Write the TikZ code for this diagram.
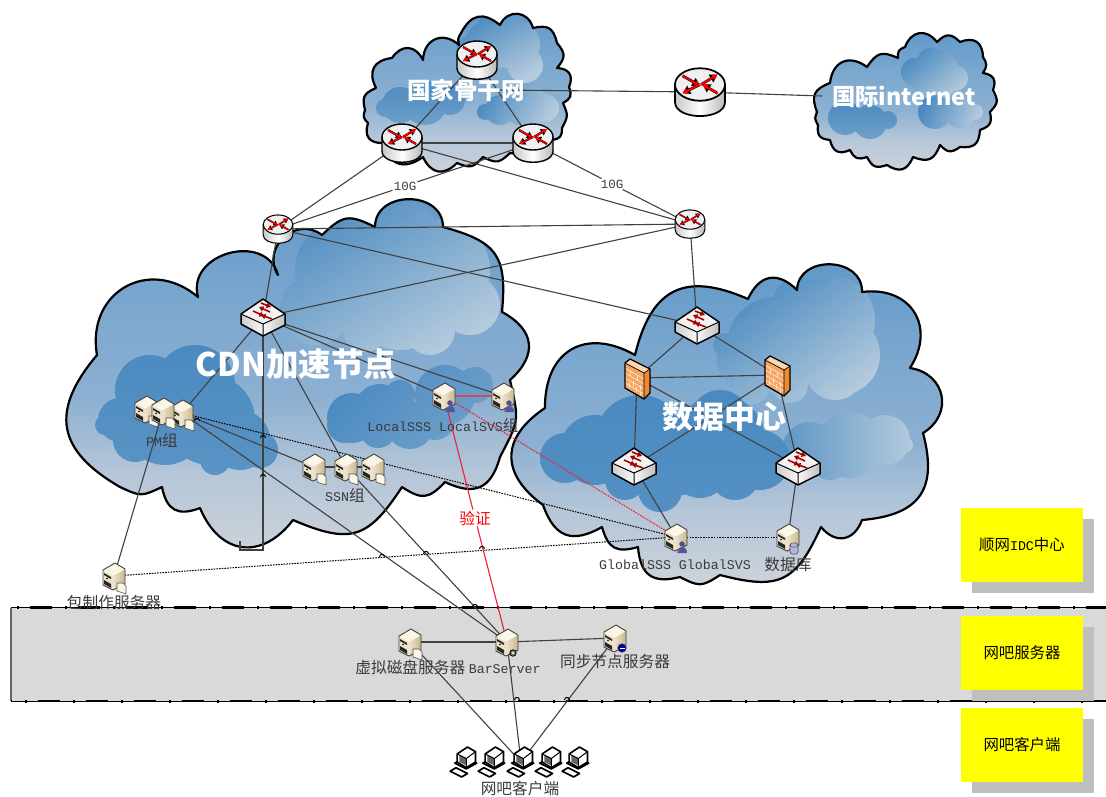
\documentclass[tikz,border=0pt]{standalone}
\usepackage{fontspec}
\setmainfont{Noto Sans CJK SC}
\setmonofont{Liberation Mono}
\usetikzlibrary{arrows.meta}
\definecolor{cTop}{HTML}{5F98C8}
\definecolor{cUp}{HTML}{7BA7CF}
\definecolor{cMid}{HTML}{8CB0D1}
\definecolor{cLow}{HTML}{B4C6D8}
\definecolor{cBot}{HTML}{CFD3DA}
\definecolor{bDark}{HTML}{4A8AC0}
\definecolor{bMid}{HTML}{6FA0CA}
\definecolor{bLight}{HTML}{B4CADD}
\definecolor{lab}{HTML}{3A3A3A}
\definecolor{lnk}{HTML}{404040}
\definecolor{bandc}{HTML}{D9D9D9}
\definecolor{redl}{HTML}{F02035}
\definecolor{redt}{HTML}{D24A62}
\definecolor{srvT}{HTML}{FBF6E6}
\definecolor{srvL}{HTML}{EDE3CA}
\definecolor{srvR}{HTML}{C9B78F}
\definecolor{pureyel}{HTML}{FFFF00}
\definecolor{fwF}{HTML}{F7A662}
\definecolor{fwS}{HTML}{EE8A34}
\definecolor{fwT}{HTML}{FBD6B0}
\definecolor{fwB}{HTML}{FDE3CC}
\pgfdeclareverticalshading{cloudsh}{100bp}{color(0bp)=(cBot); color(25bp)=(cBot); color(37bp)=(cLow); color(47bp)=(cMid); color(60bp)=(cUp); color(75bp)=(cTop); color(100bp)=(cTop)}
\tikzset{
  bump/.style={bend left=#1,looseness=1.4},
  link/.style={draw=lnk,line width=1.1pt},
  dotl/.style={draw=black,line width=1pt,dash pattern=on 1.6pt off 1.1pt},
  redline/.style={draw=redl,line width=1.1pt},
  reddot/.style={draw=redl,line width=1.1pt,dash pattern=on 1.6pt off 1.1pt},
  lbl/.style={text=lab,inner sep=0pt,font=\fontsize{15.7}{16}\selectfont},
  mono/.style={text=lab,inner sep=0pt,font=\fontsize{13.3}{15}\selectfont\ttfamily},
  ttl/.style={text=white,inner sep=0pt,font=\bfseries},
  yel/.style={fill=pureyel,draw=none,minimum width=122pt,minimum height=74pt,inner sep=0pt,text=black,font=\fontsize{15.4}{16}\selectfont},
  shd/.style={fill=black!25,draw=none,minimum width=122pt,minimum height=74pt,inner sep=0pt},
  rarr/.style={-{Triangle[length=0pt 2.8 0,width=0pt 3.2 0]},line cap=butt},
}
\newcommand\cloudpath[2]{(#1) foreach \x/\y/\b in {#2} { to[bump=\b] (\x,\y) } -- cycle}
\newcommand\blobs[4]{\shade[top color=#1,bottom color=#2,shading angle=#3] foreach \x/\y/\r in {#4} {(\x,\y) circle (\r)};}
\newcommand\cloudshape[3]{%
  \shade[shading=cloudsh] \cloudpath{#1}{#2};
  \begin{scope}\clip \cloudpath{#1}{#2}; #3 \end{scope}
  \draw[black,line width=2.2pt,line join=round] \cloudpath{#1}{#2};
}
\newcommand\redarrow[5]{%
  \draw[black,line width=#5*2.2pt,rarr] (#1,#2) -- (#3,#4);
  \draw[red,line width=#5*1.5pt,rarr] (#1,#2) -- (#3,#4);
}
\newcommand\routericon[3]{\begin{scope}[shift={(#1,#2)},scale=#3]
  \path[left color=black!22,right color=black!28,middle color=white]
    (-20,-6) -- (-20,8) .. controls (-20,23) and (20,23) .. (20,8) -- (20,-6) -- cycle;
  \draw[black,line width=#3*1.4pt] (-20,-6) -- (-20,8) .. controls (-20,23) and (20,23) .. (20,8) -- (20,-6);
  \draw[black,fill=black!6,line width=#3*1.4pt] (0,-6) ellipse (20 and 13);
  \redarrow{-14}{-13}{0}{-5}{#3}
  \redarrow{1}{-6}{14}{-14}{#3}
  \redarrow{0}{-6}{-14}{1}{#3}
  \redarrow{14}{1}{2}{-6}{#3}
\end{scope}}
\newcommand\darkarrow[4]{%
  \draw[red!65!black,line width=1.6pt,rarr] (#1,#2) -- (#3,#4);
}
\newcommand\switchicon[2]{\begin{scope}[shift={(#1,#2)}]
  \path[left color=black!20,right color=black!3] (-22,-3) -- (0,7) -- (0,19) -- (-22,7) -- cycle;
  \path[left color=black!3,right color=black!25] (0,7) -- (22,-3) -- (22,8) -- (0,19) -- cycle;
  \fill[black!5] (0,-18) -- (22,-3) -- (0,7) -- (-22,-3) -- cycle;
  \draw[black,line width=1.5pt,line join=round] (0,-18) -- (22,-3) -- (22,8) -- (0,19) -- (-22,7) -- (-22,-3) -- cycle;
  \draw[black,line width=1pt] (-22,-3) -- (0,7) -- (22,-3) (0,7) -- (0,19);
  \darkarrow{-2}{-14}{8}{-10}
  \darkarrow{7}{-5}{-4}{-10}
  \darkarrow{-10}{-6}{1}{-1}
  \darkarrow{9}{2}{-2}{-2}
\end{scope}}
\newcommand\firewallicon[2]{\begin{scope}[shift={(#1,#2)}]
  \fill[fwF] (-12,-15) -- (-7,-19) -- (13,-9) -- (13,15) -- (7,21) -- (-12,10) -- cycle;
  \fill[fwS] (7,-5) -- (13,-9) -- (13,15) -- (7,21) -- cycle;
  \fill[fwT] (-12,-15) -- (-7,-19) -- (13,-9) -- (7,-5) -- cycle;
  \foreach \t in {-9,-4,1,6,11} {\draw[fwB,line width=.7pt] (-12,\t-1) -- (7,\t+10);}
  \foreach \x/\t in {-7/-7,0/-3,-4/3,3/7,-8/5,-1/9,3/14}{\draw[fwB,line width=.7pt] (\x,\t) -- (\x,\t+5);}
  \draw[black,line width=1.3pt,line join=round] (-12,-15) -- (-7,-19) -- (13,-9) -- (13,15) -- (7,21) -- (-12,10) -- cycle;
  \draw[black,line width=.7pt] (-12,-15) -- (7,-5) -- (13,-9) (7,-5) -- (7,21);
\end{scope}}
\newcommand\srvbody{%
  \path[left color=srvL,right color=srvR] (-1,0) -- (11,-7) -- (11,8) -- (-1,14) -- cycle;
  \fill[srvL] (-11,-6) -- (-1,0) -- (-1,14) -- (-11,9) -- cycle;
  \fill[srvT] (-11,-6) -- (1,-13) -- (11,-7) -- (-1,0) -- cycle;
  \fill[black!85] (-10,-3) -- (-3,1) -- (-3,3) -- (-10,-1) -- cycle;
  \fill[black!85] (-10,4) -- (-3,8) -- (-3,12) -- (-10,8) -- cycle;
  \fill[black] (-7,2.5) circle (.9);
  \draw[black!75,line width=.9pt,line join=round] (-11,-6) -- (1,-13) -- (11,-7) -- (11,8) -- (-1,14) -- (-11,9) -- cycle;
}
\newcommand\srvdoc{\draw[black!70,fill=srvT,line width=.6pt] (3,7) -- (3,15) -- (12,18) -- (12,10) -- (9,7) -- cycle;}
\newcommand\srvuser{\draw[black!60,fill=blue!35!gray,line width=.4pt] (1.5,16) .. controls (1.5,8) and (10.5,8) .. (10.5,16) -- cycle; \draw[black!70,fill=blue!40!gray,line width=.4pt] (6,7) circle (2.4);}
\newcommand\srvdb{\draw[black!70,fill=cyan!25!blue!30,line width=.6pt] (2,8) -- (2,15) .. controls (2,18) and (10,18) .. (10,15) -- (10,8) .. controls (10,5) and (2,5) .. (2,8) -- cycle; \draw[black!70,line width=.5pt] (2,8) .. controls (2,11) and (10,11) .. (10,8);}
\newcommand\srvglobe{\draw[black!60,fill=blue!60!black,line width=.5pt] (7,10) circle (4.4); \draw[white,line width=.4pt] (4.5,10) -- (9.5,10);}
\newcommand\srvgear{\draw[black,fill=black!50,line width=.8pt] (6,11) circle (3.2); \fill[white] (6,11) circle (1.1);}
\newcommand\servericon[3]{\begin{scope}[shift={(#1,#2)}]\srvbody #3\end{scope}}
\newcommand\pcicon[2]{\begin{scope}[shift={(#1,#2)},scale=1.15]
  \draw[black,fill=white,line width=1.7pt,line join=round] (-12,8) -- (-7,5) -- (3,10) -- (-2,13) -- cycle;
  \draw[black,fill=black!15,line width=1.7pt,line join=round] (-8,1) -- (2,6) -- (11,1) -- (1,-4) -- cycle;
  \draw[black,fill=white,line width=1.7pt,line join=round] (-6,-7) -- (3,-13) -- (10,-9) -- (10,0) -- (2,5) -- (-6,0) -- cycle;
  \fill[black!60] (-4,-6) -- (2,-3) -- (2,3) -- (-4,0) -- cycle;
  \draw[black,line width=1pt] (-6,-7) -- (2,-3) -- (10,-9) (2,-3) -- (2,5);
\end{scope}}
\newcommand\jumpmark[3][black]{\draw[#1,line width=1pt] (#2-2.5,#3) .. controls (#2-2.5,#3-3.5) and (#2+2.5,#3-3.5) .. (#2+2.5,#3);}
\begin{document}
\begin{tikzpicture}[x=1pt,y=-1pt]
\useasboundingbox (0,0) rectangle (1106,796);
% clouds
\cloudshape{365,110}{376/88/40, 392/58/55, 423/60/60, 459/45/65, 461/33/20, 500/25/50, 533/28/70, 557/43/45, 557/68/40, 569/87/55, 563/103/40, 562/128/25, 552/140/40, 510/153/25, 483/157/35, 457/163/35, 423/157/55, 383/143/55, 368/123/55, 365/110/30}{%
  \blobs{bDark}{bLight}{30}{490/45/25, 515/45/25, 525/65/18, 470/50/14, 490/25/12}
  \blobs{bDark}{bMid}{0}{400/105/18, 425/103/22, 450/100/15, 385/108/9}
  \blobs{bDark}{bLight}{60}{500/110/15, 525/105/22, 545/108/14, 485/112/8}
}
\cloudshape{817,112}{830/83/45, 867/67/60, 898/58/40, 905/47/35, 937/42/60, 960/42/45, 983/57/55, 983/73/30, 993/90/50, 990/112/35, 980/130/40, 960/147/45, 940/145/40, 913/157/45, 887/165/50, 867/157/40, 850/150/40, 830/140/50, 818/125/45, 817/112/25}{%
  \blobs{bDark}{bLight}{40}{935/75/25, 915/72/14, 955/78/13, 930/60/12}
  \blobs{bDark}{bMid}{0}{845/118/17, 870/122/17, 888/120/9}
  \blobs{bDark}{bLight}{70}{935/112/17, 960/112/16, 975/112/8}
}
\cloudshape{120,487}{97/355/50, 198/297/70, 278/275/90, 322/235/80, 375/227/35, 443/227/90, 502/312/40, 510/380/55, 500/457/20, 445/482/50, 402/487/40, 293/520/40, 200/508/60, 162/487/50, 120/487/25}{%
  \blobs{bDark}{bLight}{30}{395/240/45, 345/270/50, 440/270/50, 400/300/50, 315/310/35, 470/305/30, 430/330/25, 365/330/22, 350/205/20}
  \blobs{bDark}{bDark!75!cMid}{0}{120/420/22, 150/390/35, 195/385/40, 210/420/45, 165/425/40, 240/440/30, 260/450/18, 215/460/15, 135/440/22, 105/425/10}
  \blobs{bDark}{bMid}{45}{352/418/25, 380/410/26, 410/425/24, 445/395/30, 475/385/18, 345/425/18, 400/395/15, 435/420/20, 378/430/18}
}
\cloudshape{543,505}{545/408/55, 635/355/60, 748/299/50, 797/290/55, 862/292/90, 910/368/65, 923/433/70, 862/520/50, 821/527/60, 720/575/40, 680/577/30, 638/547/50, 602/527/45, 543/505/50}{%
  \blobs{bDark}{bLight}{35}{830/320/45, 775/345/48, 840/355/40, 745/360/28, 725/345/12, 800/305/28, 835/370/30, 790/385/18, 750/385/20}
  \blobs{bDark}{bLight}{90}{775/460/20, 810/450/28, 850/445/33, 885/440/25, 905/445/8, 830/460/20, 760/462/8}
  \blobs{bDark}{bDark!85!cMid}{0}{565/458/25, 595/450/35, 640/440/45, 680/450/45, 720/440/45, 625/480/20, 660/490/22, 700/470/28, 735/475/25, 720/420/30, 760/460/30}
}
% band
\fill[bandc] (11,607) rectangle (1106,701);
\draw[black!60,line width=1.2pt] (11,607.5) -- (11,701);
\draw[black,line width=1pt] (11,607.5) -- (1106,607.5) (11,701) -- (1106,701);
\draw[black,line width=2.8pt,dash pattern=on 22pt off 26pt,dash phase=29pt] (11,607.5) -- (1106,607.5);
\draw[black,line width=3pt,dash pattern=on 2pt off 46pt,dash phase=42pt] (11,607.5) -- (1106,607.5);
\draw[black,line width=2.8pt,dash pattern=on 22pt off 26pt,dash phase=21pt] (11,701) -- (1106,701);
\draw[black,line width=3pt,dash pattern=on 2pt off 46pt,dash phase=34pt] (11,701) -- (1106,701);
% coordinates
\coordinate (r1) at (477,60);
\coordinate (r2) at (402,143);
\coordinate (r3) at (533,143);
\coordinate (r4) at (700,92);
\coordinate (r5) at (278,229);
\coordinate (r6) at (690,224);
\coordinate (bb) at (497,90);
\coordinate (inet) at (822,96);
\coordinate (cs) at (263,317);
\coordinate (ds) at (697,325);
\coordinate (fw1) at (637,378);
\coordinate (fw2) at (777,375);
\coordinate (ds2) at (634,466);
\coordinate (ds3) at (798,466);
\coordinate (pm1) at (146,409);
\coordinate (pm2) at (163,411);
\coordinate (pm3) at (182,413);
\coordinate (ssn1) at (314,467);
\coordinate (ssn2) at (346,467);
\coordinate (ssn3) at (373,467);
\coordinate (lsss) at (444,396);
\coordinate (lsvs) at (503,396);
\coordinate (gsss) at (676,537);
\coordinate (db) at (788,537);
\coordinate (pk) at (114,576);
\coordinate (bs) at (507,642);
\coordinate (vd) at (410,642);
\coordinate (sy) at (615,638);
\coordinate (pc1) at (464,762);
\coordinate (pc2) at (492,762);
\coordinate (pc3) at (521,762);
\coordinate (pc4) at (549,762);
\coordinate (pc5) at (576,762);
\coordinate (elA) at (263,550);
\coordinate (elB) at (240,550);
\coordinate (elC) at (240,541);
% connectors
\node[mono,fill=white,font=\fontsize{12.5}{14}\selectfont\ttfamily,inner sep=1pt] (g1) at (405,186) {10G};
\node[mono,fill=white,font=\fontsize{12.5}{14}\selectfont\ttfamily,inner sep=1pt] (g2) at (612,184) {10G};
\node[lbl,fill=white,text=red,inner sep=1pt] (yz) at (475,518) {验证};
\draw[link] (r1) -- (r2);
\draw[link] (r1) -- (r3);
\draw[link] (r2) -- (r3);
\draw[link] (bb) -- (r4);
\draw[link] (r4) -- (inet);
\draw[link] (r2) -- (r5);
\draw[link] (r2) -- (r6);
\draw[link] (r3) -- (g1) -- (r5);
\draw[link] (r3) -- (g2) -- (r6);
\draw[link] (r5) -- (r6);
\draw[link] (r5) -- (ds);
\draw[link] (r5) -- (cs);
\draw[link] (r6) -- (cs);
\draw[link] (r6) -- (ds);
\draw[link] (cs) -- (pm3);
\draw[link] (cs) -- (elA) -- (elB) -- (elC);
\draw[link] (cs) -- (ssn2);
\draw[link] (cs) -- (lsss);
\draw[link] (cs) -- (lsvs);
\draw[link] (pm3) -- (ssn1);
\draw[link] (pm3) -- (bs);
\draw[link] (pm2) -- (pk);
\draw[dotl] (pm3) -- (gsss);
\draw[dotl] (pk) -- (gsss);
\draw[dotl] (gsss) -- (db);
\draw[link] (ssn1) -- (ssn2) -- (ssn3);
\draw[link] (ssn2) -- (bs);
\draw[draw=redt,line width=2pt] (lsss) -- (lsvs);
\draw[redline] (lsss) -- (yz) -- (bs);
\draw[reddot] (lsss) -- (gsss);
\draw[link] (ds) -- (fw1);
\draw[link] (ds) -- (fw2);
\draw[link] (fw1) -- (fw2);
\draw[link] (fw1) -- (ds2);
\draw[link] (fw1) -- (ds3);
\draw[link] (fw2) -- (ds2);
\draw[link] (fw2) -- (ds3);
\draw[link] (ds2) -- (gsss);
\draw[link] (ds3) -- (db);
\draw[link] (vd) -- (bs);
\draw[link] (bs) -- (sy);
\draw[link] (vd) -- (pc3);
\draw[link] (bs) -- (pc3);
\draw[link] (sy) -- (pc3);
% jumps
\jumpmark{263}{438}\jumpmark{263}{477}\jumpmark{197}{421}
\jumpmark{475}{607}\jumpmark{567}{700}\jumpmark{517}{700}
\jumpmark{482}{549}\jumpmark{382}{557}\jumpmark{426}{554}
% icons
\routericon{477}{60}{1}
\routericon{402}{143}{1}
\routericon{533}{143}{1}
\routericon{700}{92}{1.25}
\routericon{278}{229}{.74}
\routericon{690}{224}{.74}
\switchicon{263}{317}
\switchicon{697}{325}
\switchicon{634}{466}
\switchicon{798}{466}
\firewallicon{637}{378}
\firewallicon{777}{375}
\servericon{146}{409}{\srvdoc}
\servericon{182}{413}{\srvdoc}
\servericon{163}{411}{\srvdoc}
\servericon{314}{467}{\srvdoc}
\servericon{346}{467}{\srvdoc}
\servericon{373}{467}{\srvdoc}
\servericon{444}{396}{\srvuser}
\servericon{503}{396}{\srvuser}
\servericon{676}{537}{\srvuser}
\servericon{788}{537}{\srvdb}
\servericon{114}{576}{\srvdoc}
\servericon{410}{642}{\srvdoc}
\servericon{507}{642}{\srvgear}
\servericon{615}{638}{\srvglobe}
\pcicon{464}{762}
\pcicon{492}{762}
\pcicon{521}{762}
\pcicon{549}{762}
\pcicon{576}{762}
% titles
\node[ttl,font=\fontsize{23.5}{24}\selectfont\bfseries] (t1) at (466,90) {国家骨干网};
\node[ttl,font=\fontsize{23.3}{24}\selectfont\bfseries] (t2) at (904,97) {国际internet};
\node[ttl,font=\fontsize{32.5}{34}\selectfont\bfseries] (t3) at (296,364) {CDN加速节点};
\node[ttl,font=\fontsize{31}{32}\selectfont\bfseries] (t4) at (724,417) {数据中心};
% labels
\node[lbl] (l1) at (162,440) {\fontsize{13.3}{15}\selectfont\ttfamily PM\rmfamily\fontsize{15.7}{16}\selectfont 组};
\node[lbl] (l2) at (345,495) {\fontsize{13.3}{15}\selectfont\ttfamily SSN\rmfamily\fontsize{15.7}{16}\selectfont 组};
\node[lbl] (l3) at (443,425) {\fontsize{13.3}{15}\selectfont\ttfamily LocalSSS LocalSVS\rmfamily\fontsize{15.7}{16}\selectfont 组};
\node[mono] (l4) at (675,565) {GlobalSSS GlobalSVS};
\node[lbl] (l5) at (788,565) {数据库};
\node[lbl] (l6) at (114,602) {包制作服务器};
\node[lbl] (l7) at (448,667) {虚拟磁盘服务器\ \fontsize{13.3}{15}\selectfont\ttfamily BarServer};
\node[lbl] (l8) at (615,662) {同步节点服务器};
\node[lbl] (l9) at (520,788) {网吧客户端};
% legend
\node[shd] (s1) at (1033,556) {};
\node[shd] (s2) at (1033,664) {};
\node[shd] (s3) at (1033,756) {};
\node[yel] (k1) at (1022,545) {顺网{\fontsize{13.3}{15}\selectfont\ttfamily IDC}中心};
\node[yel] (k2) at (1022,653) {网吧服务器};
\node[yel] (k3) at (1022,745) {网吧客户端};
\end{tikzpicture}
\end{document}
